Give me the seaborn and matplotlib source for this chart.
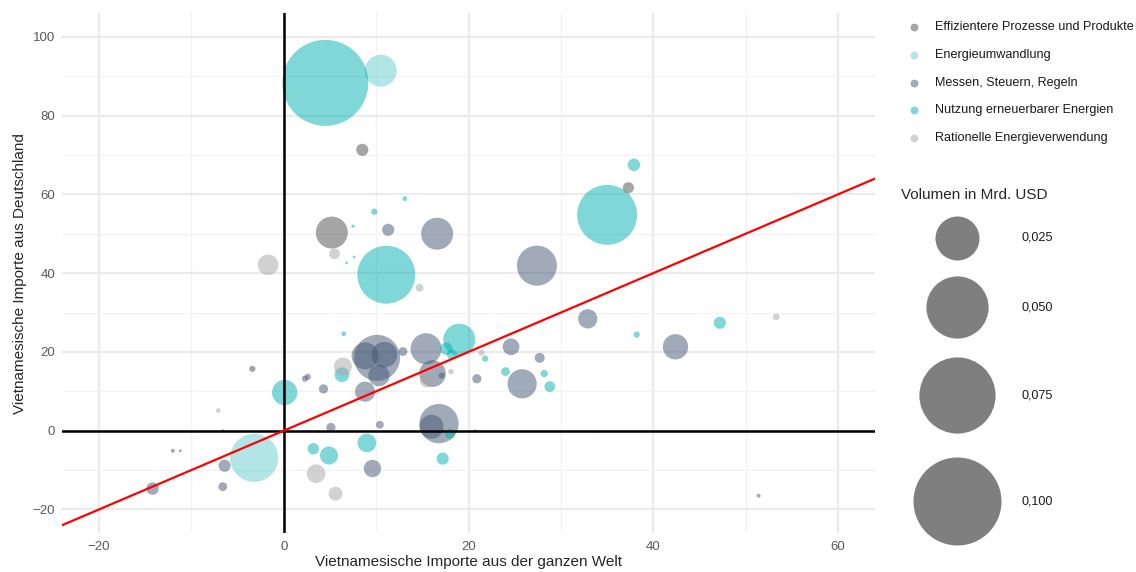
import matplotlib
matplotlib.use("Agg")
import matplotlib.pyplot as plt
import seaborn as sns
import pandas as pd

# Kategorien und Farben
KATEGORIEN = ["Effizientere Prozesse und Produkte", "Energieumwandlung",
              "Messen, Steuern, Regeln", "Nutzung erneuerbarer Energien",
              "Rationelle Energieverwendung"]
FARBEN = ["#4d4d4d", "#66cccc", "#425673", "#00b0b0", "#a6a6a6"]

# Daten je Kategorie: Importe Welt (x), Importe Deutschland (y), Volumen in Mrd. USD
eff_welt = [8.5, 37.3, 5.2, -3.4, -12.0, -11.2, 2.6]
eff_de = [71.3, 61.7, 50.3, 15.7, -5.1, -5.1, -0.2]
eff_vol = [0.0019, 0.0016, 0.0132, 0.0005, 0.0002, 0.0001, 0.0001]

ewa_welt = [10.5, -3.2]
ewa_de = [91.4, -6.9]
ewa_vol = [0.0132, 0.0298]

msr_welt = [11.3, 16.6, 27.4, 32.9, 42.4, 24.6, 27.7, 25.8, 51.4, 34.2, 10.1, 8.8,
            10.9, 10.3, 12.9, 15.4, 16.1, 17.1, 20.9, 2.6, 2.3, 4.3, 8.8, 5.1, 10.4,
            16.8, 16.0, -6.4, -6.6, 9.6, -14.2, -6.6, 3.8, 20.7]
msr_de = [51.0, 50.0, 41.9, 28.4, 21.3, 21.3, 18.5, 11.9, -16.5, -0.2, 18.5, 19.0,
          19.3, 14.0, 20.1, 20.8, 14.5, 14.0, 13.2, 13.7, 13.2, 10.6, 9.9, 0.8, 1.5,
          1.8, 1.0, -8.9, -14.2, -9.6, -14.7, 0.0, -0.2, 0.0]
msr_vol = [0.0019, 0.0132, 0.0207, 0.0048, 0.0083, 0.0036, 0.0013, 0.011, 0.0002,
           0.0001, 0.0273, 0.0094, 0.0085, 0.0059, 0.001, 0.0124, 0.0092, 0.0005,
           0.0011, 0.0005, 0.0005, 0.0011, 0.0052, 0.0011, 0.0008, 0.02, 0.0074,
           0.0019, 0.001, 0.0039, 0.002, 0.0001, 0.0001, 0.0001]

nee_welt = [4.5, 13.1, 9.8, 7.5, 7.6, 6.8, 11.1, 37.9, 35.0, 38.2, 47.2, 21.8, 24.0,
            28.2, 28.8, 6.5, 17.6, 18.2, 19.0, 6.3, 0.1, 18.0, 3.2, 4.9, 9.0, 17.2]
nee_de = [88.3, 58.9, 55.6, 51.9, 44.1, 42.6, 39.6, 67.5, 54.8, 24.4, 27.4, 18.3, 15.0,
          14.5, 11.2, 24.6, 20.8, 19.3, 23.1, 14.2, 9.7, -0.8, -4.6, -6.3, -3.1, -7.1]
nee_vol = [0.0955, 0.0003, 0.0005, 0.00015, 0.0001, 0.0001, 0.0434, 0.002, 0.0465,
           0.0005, 0.0019, 0.0005, 0.001, 0.0007, 0.0015, 0.0003, 0.002, 0.0013,
           0.0132, 0.0028, 0.0083, 0.0013, 0.0017, 0.0042, 0.0045, 0.0019]

rev_welt = [5.5, -1.7, 14.7, 53.3, 21.4, 15.5, 18.1, 6.4, -7.1, 3.5, 5.6]
rev_de = [44.9, 42.1, 36.3, 28.9, 19.8, 12.7, 15.0, 16.3, 5.1, -10.9, -16.0]
rev_vol = [0.0015, 0.0055, 0.0008, 0.0006, 0.0005, 0.0025, 0.0004, 0.0042, 0.0003,
           0.0045, 0.0025]

LEGENDE_VOL = [0.025, 0.050, 0.075, 0.100]
LEGENDE_TXT = ["0,025", "0,050", "0,075", "0,100"]

teile = []
for kat, w, d, v in zip(KATEGORIEN,
                        [eff_welt, ewa_welt, msr_welt, nee_welt, rev_welt],
                        [eff_de, ewa_de, msr_de, nee_de, rev_de],
                        [eff_vol, ewa_vol, msr_vol, nee_vol, rev_vol]):
    teile.append(pd.DataFrame({"welt": w, "de": d, "vol": v, "kat": kat}))
df = pd.concat(teile, ignore_index=True)

sns.set_style("whitegrid")
plt.rcParams["font.family"] = ["Liberation Sans", "DejaVu Sans"]

# Flaeche proportional zum Volumen: 0,1 Mrd. -> Durchmesser ~88 px
S_MAX = 4014.5

fig = plt.figure(figsize=(11.36, 5.72), dpi=100)
ax = fig.add_axes([0.0546, 0.068, 0.7157, 0.909])

palette = dict(zip(KATEGORIEN, FARBEN))
sns.scatterplot(data=df, x="welt", y="de", hue="kat", size="vol", palette=palette,
                sizes=(0, S_MAX), size_norm=(0, 0.1), alpha=0.5, linewidth=0,
                legend=False, ax=ax, zorder=2)

ax.axhline(0, color="black", lw=1.8, zorder=3)
ax.axvline(0, color="black", lw=1.8, zorder=3)
ax.axline((0, 0), slope=1, color="red", lw=1.6, zorder=4)

ax.set_xlim(-24, 64)
ax.set_ylim(-26, 106)
ax.set_xticks([-20, 0, 20, 40, 60])
ax.set_yticks([-20, 0, 20, 40, 60, 80, 100])
ax.set_xticks([-10, 10, 30, 50], minor=True)
ax.set_yticks([-10, 10, 30, 50, 70, 90], minor=True)
ax.set_xticklabels(["\u221220", "0", "20", "40", "60"])
ax.set_yticklabels(["\u221220", "0", "20", "40", "60", "80", "100"])
ax.grid(which="major", color="#ebebeb", lw=1.6)
ax.grid(which="minor", color="#f2f2f2", lw=0.9)
ax.tick_params(axis="x", which="both", length=0, labelsize=9.5,
               labelcolor="#5a5a5a", pad=6)
ax.tick_params(axis="y", which="both", length=0, labelsize=9.5,
               labelcolor="#5a5a5a", pad=5)
for sp in ax.spines.values():
    sp.set_visible(False)
ax.set_xlabel("Vietnamesische Importe aus der ganzen Welt", fontsize=11, labelpad=1)
ax.set_ylabel("Vietnamesische Importe aus Deutschland", fontsize=11, labelpad=4)

# Legenden in Pixelkoordinaten
lax = fig.add_axes([0, 0, 1, 1], facecolor="none")
lax.set_xlim(0, 1136)
lax.set_ylim(572, 0)
lax.axis("off")
for i, (kat, farbe) in enumerate(zip(KATEGORIEN, FARBEN)):
    yy = 27 + i * 27.8
    lax.scatter([914], [yy], s=32, color=farbe, alpha=0.5, linewidth=0)
    lax.text(935, yy, kat, fontsize=9.1, va="center", ha="left", color="#1a1a1a")

lax.text(901, 195, "Volumen in Mrd. USD", fontsize=11, va="center", ha="left")
for yy, vol, txt in zip([238, 307, 395, 501], LEGENDE_VOL, LEGENDE_TXT):
    lax.scatter([957], [yy], s=S_MAX * vol / 0.1, color="black", alpha=0.5, linewidth=0)
    lax.text(1021, yy, txt, fontsize=9.1, va="center", ha="left", color="#1a1a1a")

plt.savefig("out.png", dpi=100)
plt.close()
